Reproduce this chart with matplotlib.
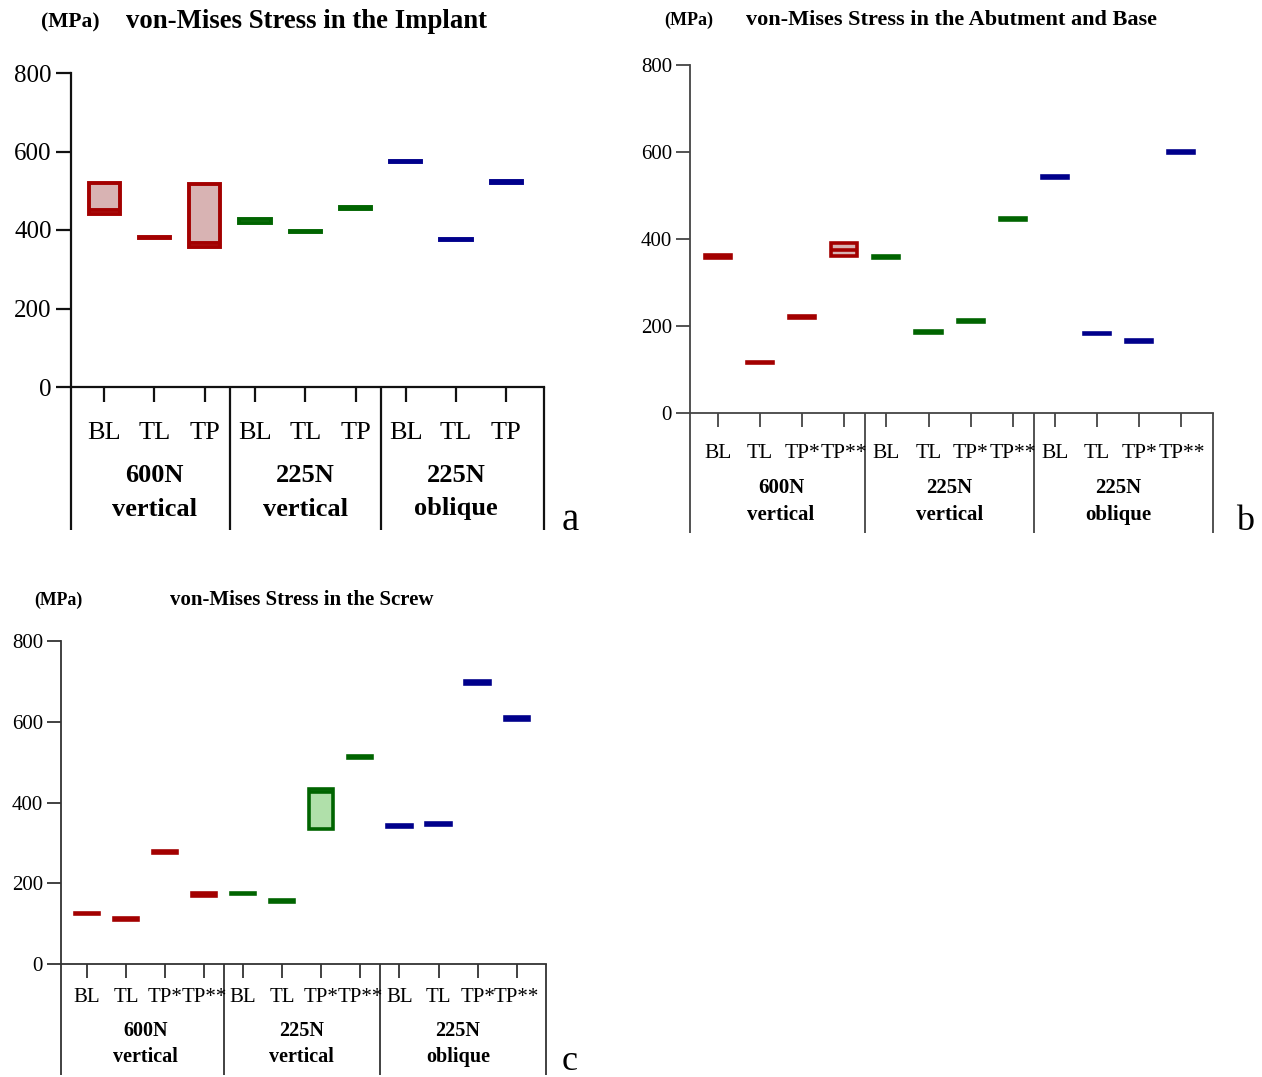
import matplotlib
matplotlib.use("Agg")
import matplotlib.pyplot as plt
import matplotlib.transforms as mtransforms
import numpy as np

W, H, DPI = 1262, 1077, 100

# ---------------- data ----------------
groups = ["600N\nvertical", "225N\nvertical", "225N\noblique"]
sub_a = ["BL", "TL", "TP"]
sub_bc = ["BL", "TL", "TP*", "TP**"]
yticks = [0, 200, 400, 600, 800]

# (a) implant: min / max / mean line (nan = no separate line)
a_min = [442, 379, 357, 419, 396, 453, 572, 374, 521]
a_max = [520, 382, 518, 428, 398, 459, 576, 378, 526]
a_mid = [451, np.nan, 366, np.nan, np.nan, np.nan, np.nan, np.nan, np.nan]

# (b) abutment and base
b_min = [357, 115, 219, 360, 356, 185, 209, 443, 540, 182, 164, 598]
b_max = [364, 118, 223, 391, 360, 189, 213, 448, 544, 184, 168, 602]
b_mid = [np.nan, np.nan, np.nan, 374, np.nan, np.nan, np.nan, np.nan,
         np.nan, np.nan, np.nan, np.nan]

# (c) screw
c_min = [125, 110, 275, 169, 174, 153, 334, 509, 340, 345, 694, 605]
c_max = [127, 114, 281, 175, 177, 159, 433, 516, 344, 348, 700, 611]
c_mid = [np.nan, np.nan, np.nan, np.nan, np.nan, np.nan, 426, np.nan,
         np.nan, np.nan, np.nan, np.nan]

edge_colors = ["#A30000", "#006400", "#00008B"]
fill_colors = ["#D8B3B3", "#B0E0AA", "#B3B3D8"]

plt.rcParams['font.family'] = ['Liberation Serif', 'DejaVu Serif']

fig = plt.figure(figsize=(W / DPI, H / DPI), dpi=DPI)


def panel(left, right, top, bottom, line_bottom, subs, vmin, vmax, vmid,
          title, title_x, title_y, title_fs, mpa_x, mpa_fs,
          tick_fs, cat_fs, cat_y, grp_fs, grp_y1, grp_y2,
          letter, letter_x, letter_y, letter_fs, axcol, lw_axis, tick_len,
          edge_lw, bar_w):
    ax = fig.add_axes([left / W, 1 - bottom / H, (right - left) / W, (bottom - top) / H])
    n_sub = len(subs)
    n = n_sub * len(groups)
    x = np.arange(n)
    ax.set_xlim(-0.66, n - 1 + 0.75)
    ax.set_ylim(0, 800)

    def ay(ypx):
        return (bottom - ypx) / (bottom - top)

    for i in range(n):
        g = i // n_sub
        ax.bar(x[i], vmax[i] - vmin[i], bottom=vmin[i], width=bar_w,
               color=fill_colors[g], edgecolor=edge_colors[g], linewidth=edge_lw, zorder=3)
        if not np.isnan(vmid[i]):
            ax.plot([x[i] - bar_w / 2, x[i] + bar_w / 2], [vmid[i], vmid[i]],
                    color=edge_colors[g], lw=edge_lw, solid_capstyle='butt', zorder=4)

    for s in ["top", "right"]:
        ax.spines[s].set_visible(False)
    for s in ["left", "bottom"]:
        ax.spines[s].set_color(axcol)
        ax.spines[s].set_linewidth(lw_axis)

    ax.set_yticks(yticks)
    ax.set_yticklabels([str(v) for v in yticks], fontsize=tick_fs)
    ax.tick_params(axis='y', direction='out', length=tick_len, width=lw_axis,
                   color=axcol, pad=3)
    ax.set_xticks(x)
    ax.set_xticklabels([])
    ax.tick_params(axis='x', direction='out', length=tick_len, width=lw_axis, color=axcol)

    trans = mtransforms.blended_transform_factory(ax.transData, ax.transAxes)
    xl = ax.get_xlim()
    vlines = [xl[0]] + [n_sub * k - 0.5 for k in (1, 2)] + [xl[1]]
    for xv in vlines:
        ax.plot([xv, xv], [0, ay(line_bottom)], transform=trans, clip_on=False,
                color=axcol, lw=lw_axis, solid_capstyle='butt')

    for i in range(n):
        ax.text(x[i], ay(cat_y), subs[i % n_sub], transform=trans, ha='center',
                va='center', fontsize=cat_fs)
    for k, gname in enumerate(groups):
        xc = k * n_sub + (n_sub - 1) / 2
        l1, l2 = gname.split("\n")
        ax.text(xc, ay(grp_y1), l1, transform=trans, ha='center', va='center',
                fontsize=grp_fs, fontweight='bold')
        ax.text(xc, ay(grp_y2), l2, transform=trans, ha='center', va='center',
                fontsize=grp_fs, fontweight='bold')

    fig.text(mpa_x / W, 1 - title_y / H, "(MPa)", ha='center', va='center',
             fontsize=mpa_fs, fontweight='bold')
    fig.text(title_x / W, 1 - title_y / H, title, ha='center', va='center',
             fontsize=title_fs, fontweight='bold')
    fig.text(letter_x / W, 1 - letter_y / H, letter, ha='center', va='center',
             fontsize=letter_fs)
    return ax


panel(71, 544, 73, 387, 530, sub_a, a_min, a_max, a_mid,
      "von-Mises Stress in the Implant", 307, 22, 19.3, 70, 15.5,
      18, 19, 433, 19, 476, 509,
      "a", 570, 520, 28, "#111111", 1.6, 11, 2.8, 0.62)

panel(690, 1213, 65, 413, 533, sub_bc, b_min, b_max, b_mid,
      "von-Mises Stress in the Abutment and Base", 951, 20, 16, 689, 13,
      15, 15.5, 453, 15, 488, 515,
      "b", 1245, 522, 26, "#444444", 1.3, 10, 2.6, 0.62)

panel(61, 546, 641, 964, 1075, sub_bc, c_min, c_max, c_mid,
      "von-Mises Stress in the Screw", 302, 600, 15, 58, 12.8,
      15, 15, 998, 14.5, 1031, 1057,
      "c", 570, 1062, 26, "#333333", 1.3, 10, 2.6, 0.62)

fig.savefig("out.png", dpi=DPI)
